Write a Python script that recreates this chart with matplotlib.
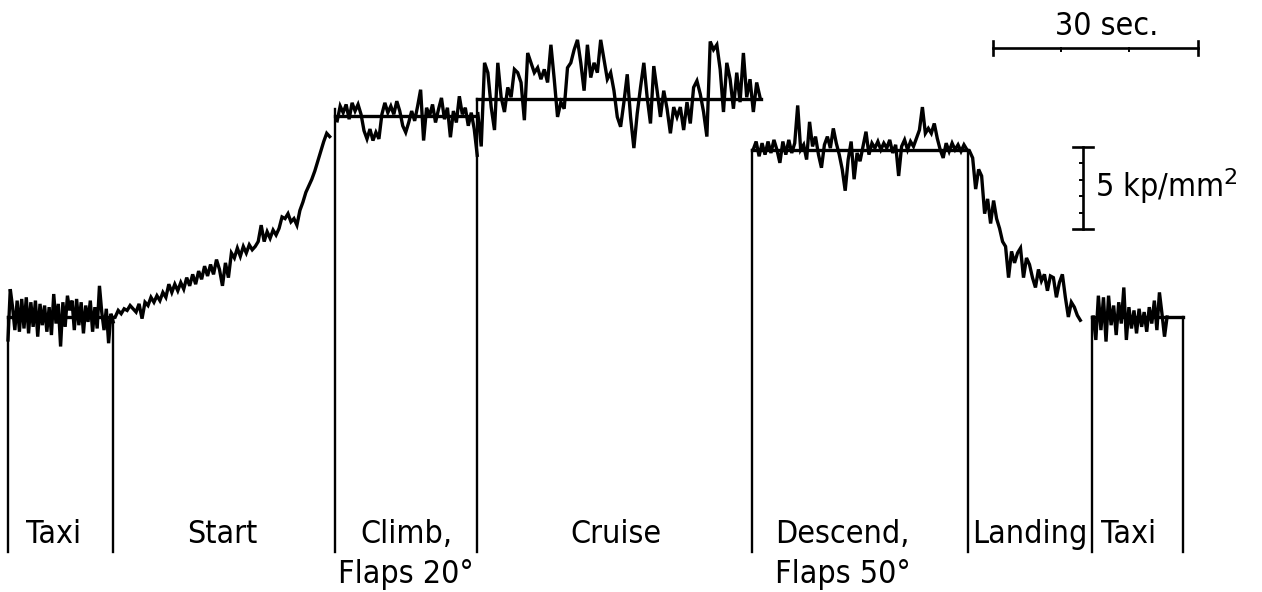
import numpy as np
import matplotlib
matplotlib.use("Agg")
import matplotlib.pyplot as plt
from matplotlib.font_manager import FontProperties, findfont

# ---- Stress record of one flight (kp/mm^2 above ground level), by phase ----
# phase boundaries in seconds
phase_edges_s = [0.0, 15.4, 47.9, 68.7, 109.0, 140.6, 158.7, 172.0]

# mean stress level of each steady phase (kp/mm^2)
level_taxi = 0.0
level_climb = 12.26
level_cruise = 13.3
level_descend = 10.2

# time spans of the recorded trace in each phase (s)
span_taxi1 = (0.0, 15.4)
span_start = (15.7, 47.1)
span_climb = (48.2, 68.7)
span_cruise = (68.8, 110.1)
span_descend = (109.1, 140.4)
span_landing = (140.8, 157.0)
span_taxi2 = (158.9, 169.7)

# fluctuations about the taxi level
taxi1_dev = [-1.4, 1.7, 0.6, -0.8, 1.0, -0.9, 1.1, -0.7, 1.2, -1.0, 0.9, -0.6,
             1.0, -1.2, 0.8, -0.5, 0.7, -0.9, 0.6, -1.1, 1.4, -0.4, 0.8, -1.8,
             0.9, -0.6, 1.3, 0.4, 1.0, -0.8, 1.1, -0.5, 0.9, -1.0, 0.7, -0.3,
             1.0, -0.9, 0.6, -0.7, 1.9, 0.3, -0.8, 0.5, -1.6, 0.2, -0.3]

# take-off run: stress rising from ground level
start_vals = [0.0, 0.4, 0.2, 0.5, 0.4, 0.7, 0.5, 0.3, 0.8, -0.1, 0.9, 0.7,
              1.2, 0.9, 1.3, 1.0, 1.5, 1.2, 2.0, 1.5, 2.0, 1.6, 2.1, 1.7,
              2.4, 1.9, 2.6, 2.0, 2.8, 2.3, 3.1, 2.5, 3.2, 2.6, 3.5, 2.9,
              1.9, 3.3, 2.4, 3.9, 3.6, 4.2, 3.7, 4.3, 3.9, 4.4, 4.1, 4.3,
              4.6, 5.6, 4.6, 5.2, 4.8, 5.3, 5.0, 5.4, 6.1, 6.0, 6.3, 5.8,
              6.0, 5.6, 6.5, 7.0, 7.6, 8.0, 8.4, 8.9, 9.5, 10.1, 10.7, 11.2,
              11.0]

climb_dev = [-0.3, 0.6, 0.2, 0.7, -0.2, 0.8, 0.3, 0.7, 0.1, -0.9, -1.4, -0.8,
             -1.5, -1.0, -1.4, 0.1, 0.8, 0.2, 0.6, 0.1, 0.9, 0.3, -0.6, -1.0,
             -0.4, 0.3, -0.3, 0.6, 1.6, -1.5, 0.5, 0.0, 0.7, -0.4, 0.4, 1.1,
             -0.2, 0.5, -1.3, 0.3, -0.4, 1.2, 0.1, 0.5, -0.6, 0.2, -0.8, -2.4]

cruise_dev = [-0.9, -2.9, 2.2, 1.6, -0.5, -1.9, 2.2, 0.1, -0.8, 0.7, 0.1, 1.8,
              1.6, 1.0, -1.3, 2.8, 2.2, 1.6, 1.9, 1.2, 1.8, 1.0, 3.3, 1.2,
              -1.1, -0.2, -0.6, 1.9, 2.2, 3.0, 3.6, 2.2, 0.5, 3.3, 1.3, 2.2,
              1.6, 3.6, 2.4, 1.2, 1.6, 0.5, -1.1, -1.7, -0.2, 1.5, -1.1, -3.0,
              -0.9, 0.7, 2.2, 0.1, -1.5, 2.0, 0.5, -1.1, 0.5, -0.6, -2.1, -0.5,
              -1.1, -0.5, -1.9, -0.2, -1.5, 0.7, 1.1, 0.3, -0.8, -2.3, 3.5, 3.0,
              3.3, 1.8, -0.8, 2.2, 1.2, -0.6, 1.6, -0.2, 2.8, 0.1, 1.2, -0.8,
              1.0, 0.1]

descend_dev = [0.0, 0.5, -0.4, 0.4, -0.3, 0.5, -0.2, 0.6, 0.0, -0.8, 0.5, -0.3,
               0.6, -0.2, 0.4, 2.7, 0.0, 0.3, -0.6, 1.7, 0.2, 0.8, -0.3, -1.1,
               0.3, 0.8, 0.1, 1.3, 0.4, -0.3, -1.2, -2.5, -0.6, 0.5, -1.8, -0.2,
               -0.7, 0.2, 1.1, -0.3, 0.4, 0.1, 0.5, 0.0, 0.4, 0.1, 0.6, -0.2,
               0.3, -1.6, 0.2, 0.6, 0.0, 0.5, 0.2, 0.7, 1.2, 2.6, 1.0, 1.3,
               1.0, 1.6, 0.7, 0.0, -0.5, 0.4, -0.1, 0.4, 0.0, 0.3, -0.1, 0.3,
               0.0]

# landing: stress falling back to ground level
landing_vals = [10.1, 9.7, 7.8, 9.0, 8.6, 6.3, 7.2, 5.7, 7.1, 6.0, 5.4, 4.6,
                4.3, 2.4, 4.0, 3.3, 3.9, 4.2, 2.4, 3.6, 3.2, 2.4, 1.8, 2.9,
                2.2, 2.6, 1.6, 2.5, 2.4, 1.2, 2.1, 2.6, 1.2, 0.0, 0.9, 0.6,
                0.1, -0.2]

taxi2_dev = [0.0, -1.4, 1.3, -0.8, 1.2, -1.5, 1.3, -0.5, 0.7, -1.1, 0.9, -0.4,
             1.8, -1.4, 0.6, -0.7, 0.4, -1.0, 0.5, -0.6, 0.3, -0.9, 0.6, -0.4,
             1.0, -0.8, 1.5, 0.2, -1.2, 0.0]

# phase names: (first line, second line)
phase_labels = [("Taxi", ""), ("Start", ""), ("Climb,", "Flaps 20°"),
                ("Cruise", ""), ("Descend,", "Flaps 50°"), ("Landing", ""),
                ("Taxi", "")]

time_scale_s = 30
stress_scale = 5

# ---- lettering: narrow face if one is available ----
cond = FontProperties(family="DejaVu Sans", stretch="condensed")
if "Condensed" in findfont(cond, fallback_to_default=True):
    font = dict(family="DejaVu Sans", stretch="condensed", size=23)
else:
    font = dict(family="DejaVu Sans", size=20)
font["color"] = "black"

# ---- figure ----
fig = plt.figure(figsize=(12.62, 5.92), dpi=100)
ax = fig.add_axes([0, 0, 1, 1])
ax.set_xlim(-1.17, 183.6)
ax.set_ylim(-16.77, 19.33)
ax.axis("off")

ink = "black"
lw_trace = 2.4
lw_frame = 1.7
bottom = -14.33


def trace(span, vals, level=0.0):
    t = np.linspace(span[0], span[1], len(vals))
    ax.plot(t, np.asarray(vals) + level, color=ink, lw=lw_trace,
            solid_joinstyle="miter")


trace(span_taxi1, taxi1_dev, level_taxi)
trace(span_start, start_vals)
trace(span_climb, climb_dev, level_climb)
trace(span_cruise, cruise_dev, level_cruise)
trace(span_descend, descend_dev, level_descend)
trace(span_landing, landing_vals)
trace(span_taxi2, taxi2_dev, level_taxi)

e = phase_edges_s
# mean-level lines of the steady phases
ax.plot([e[0], e[1]], [level_taxi] * 2, color=ink, lw=2.4)
ax.plot([e[2], e[3]], [level_climb] * 2, color=ink, lw=2.4)
ax.plot([e[3], 110.3], [level_cruise] * 2, color=ink, lw=2.4)
ax.plot([e[4], e[5]], [level_descend] * 2, color=ink, lw=2.4)
ax.plot([e[6], e[7]], [level_taxi] * 2, color=ink, lw=2.4)

# phase dividers
tops = [level_taxi, level_taxi, level_climb + 0.4, level_cruise,
        level_descend, level_descend, level_taxi, level_taxi]
for x, top in zip(e, tops):
    ax.plot([x, x], [top, bottom], color=ink, lw=lw_frame)

# phase names
label_x = [6.6, 31.3, 58.3, 89.0, 112.3, 149.6, 164.0]
line1_y, line2_y = -13.78, -16.22
for x, (l1, l2) in zip(label_x, phase_labels):
    ha = "left" if l1.startswith("Descend") else "center"
    ax.text(x, line1_y, l1, ha=ha, va="baseline", **font)
    if l2:
        ax.text(x, line2_y, l2, ha=ha, va="baseline", **font)

# time scale bar
x0, y0 = 144.2, 16.4
ax.plot([x0, x0 + time_scale_s], [y0, y0], color=ink, lw=1.9)
for x in (x0, x0 + time_scale_s):
    ax.plot([x, x], [y0 - 0.45, y0 + 0.45], color=ink, lw=1.9)
for k in (1, 2):
    ax.plot([x0 + 10 * k] * 2, [y0, y0 - 0.2], color=ink, lw=1.4)
ax.text(160.9, 17.2, f"{time_scale_s} sec.", ha="center", va="baseline",
        **font)

# stress scale bar
xs, ys = 157.4, 5.37
ax.plot([xs, xs], [ys, ys + stress_scale], color=ink, lw=1.9)
for y in (ys, ys + stress_scale):
    ax.plot([xs - 1.4, xs + 1.4], [y, y], color=ink, lw=1.9)
for k in range(1, stress_scale):
    ax.plot([xs - 0.5, xs], [ys + k] * 2, color=ink, lw=1.4)
ax.text(159.2, 7.32, f"{stress_scale} kp/mm$^2$", ha="left", va="baseline",
        **font)

fig.savefig("out.png", dpi=100)
